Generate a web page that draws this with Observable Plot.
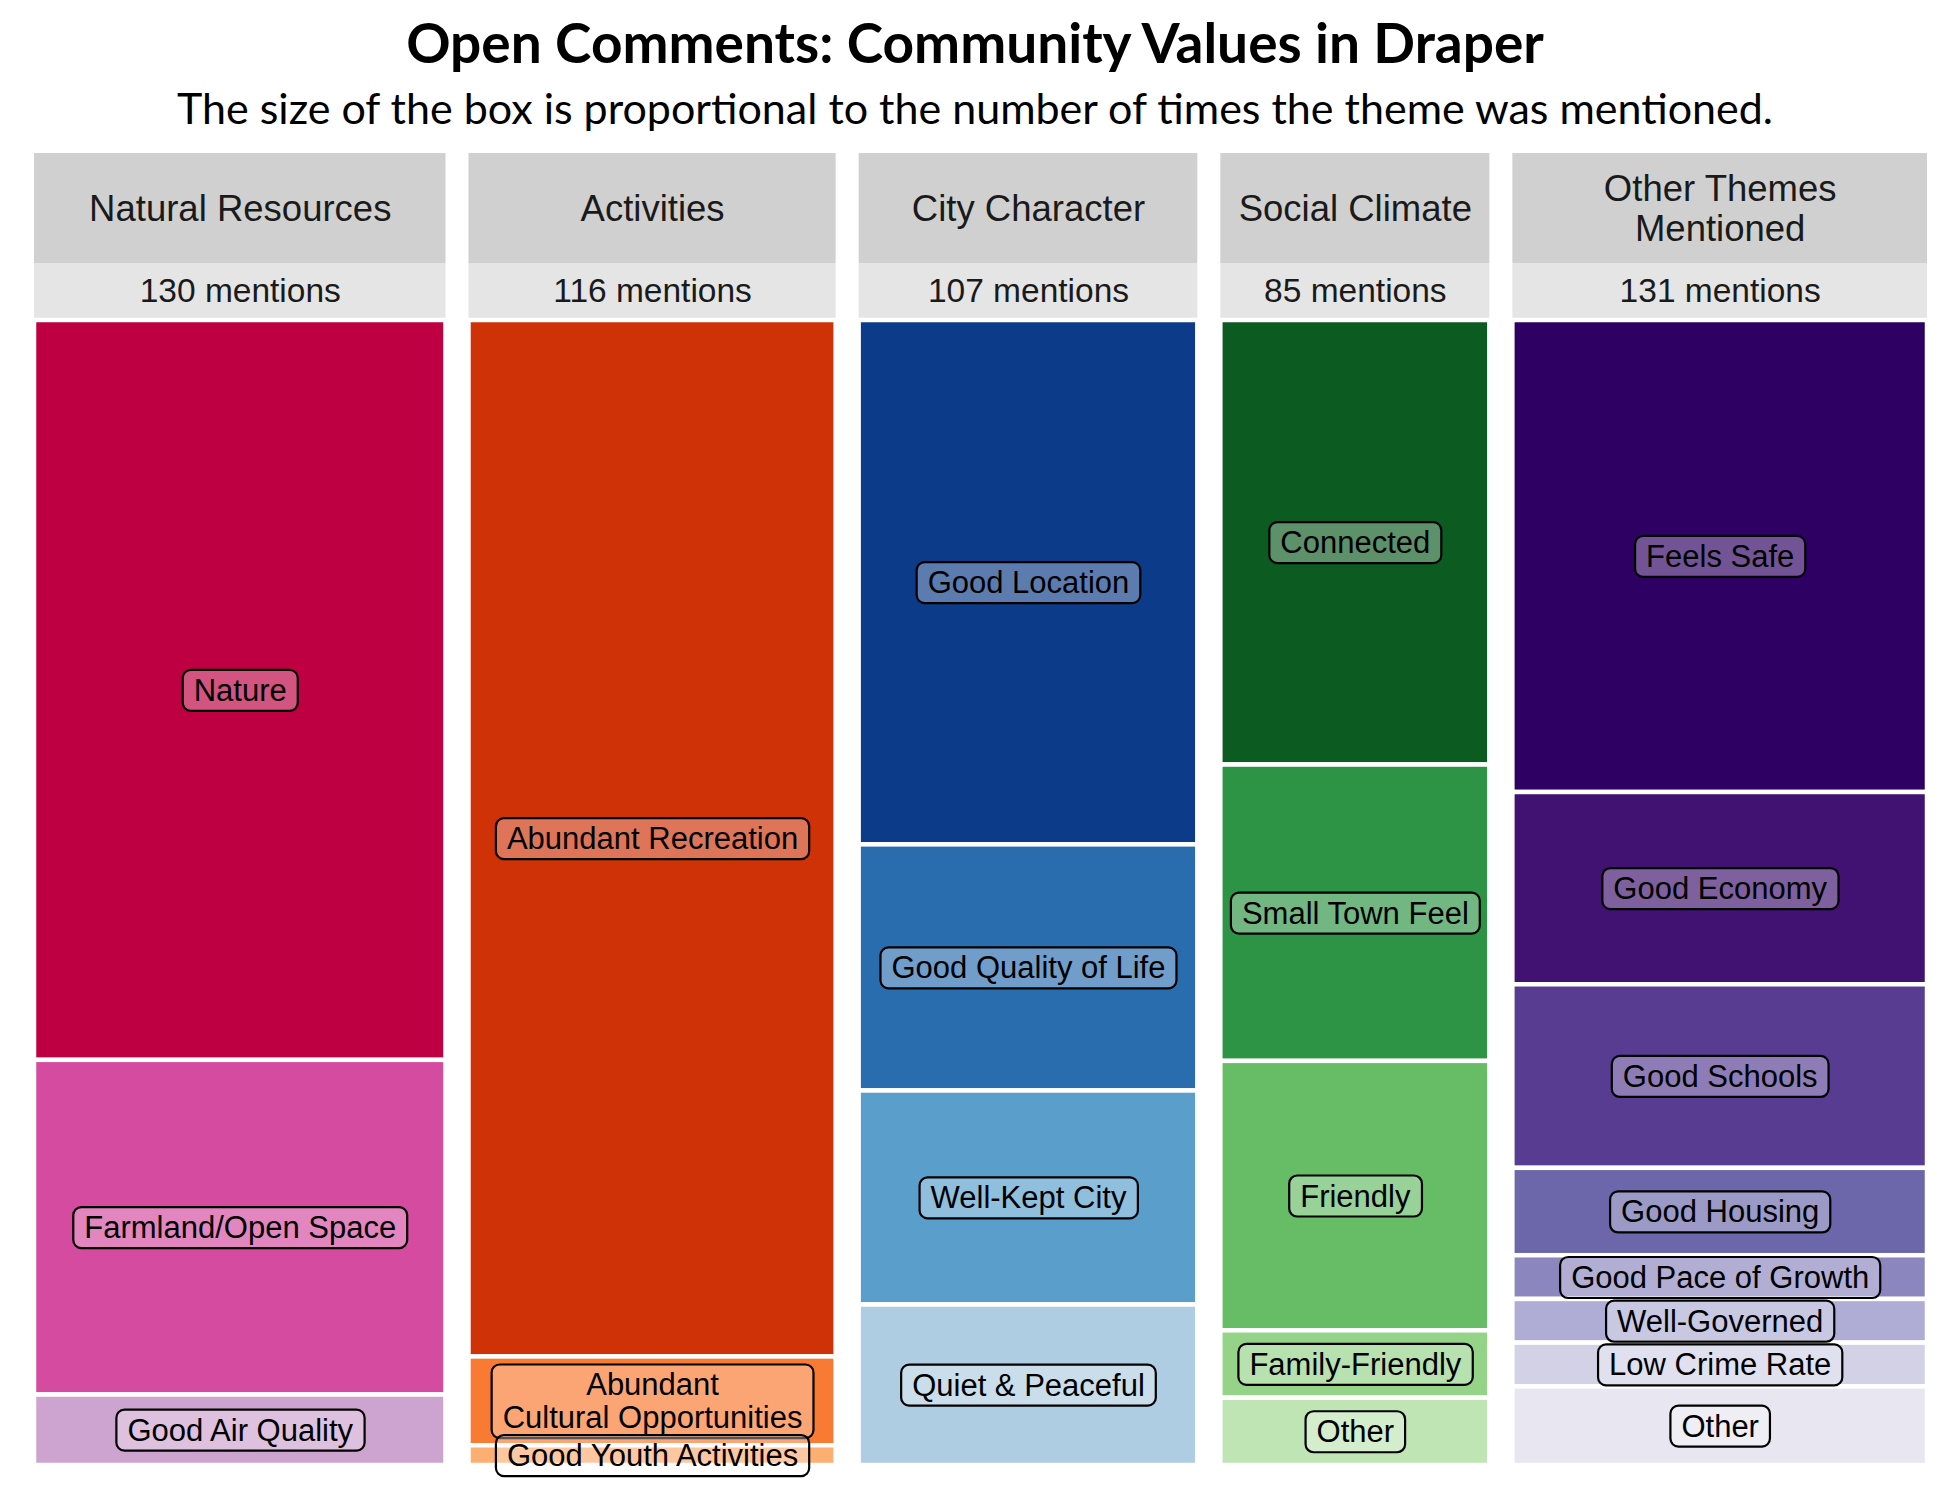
<!DOCTYPE html>
<html>
<head>
<meta charset="utf-8">
<script src="https://cdn.jsdelivr.net/npm/d3@7"></script>
<script src="https://cdn.jsdelivr.net/npm/@observablehq/plot@0.6"></script>
<style>
  body { margin: 0; background: #fff; }
  #head { width: 1950px; height: 150px; position: relative; }
  .hl { position: absolute; left: 0; width: 1950px; text-align: center; white-space: nowrap; }
  #title { top: 0; height: 84px; line-height: 84px; }
  #subtitle { top: 86px; height: 44px; line-height: 44px; }
  #title span { font-family: Lato, sans-serif; font-weight: 700; font-size: 54px; color: #000; display: inline-block; }
  #subtitle span { font-family: Lato, sans-serif; font-weight: 400; font-size: 40px; color: #000; display: inline-block; }
</style>
</head>
<body>
<div id="head">
  <div class="hl" id="title"><span>Open Comments: Community Values in Draper</span></div>
  <div class="hl" id="subtitle"><span>The size of the box is proportional to the number of times the theme was mentioned.</span></div>
</div>
<div id="chart"></div>
<script>
// ---- data ----
const themes = ["Natural Resources", "Activities", "City Character", "Social Climate", "Other Themes\nMentioned"];
const themeMentions = [130, 116, 107, 85, 131];

const naturalLabels = ["Nature", "Farmland/Open Space", "Good Air Quality"];
const naturalCounts = [84, 38, 8];
const activitiesLabels = ["Abundant Recreation", "Abundant\nCultural Opportunities", "Good Youth Activities"];
const activitiesCounts = [105, 9, 2];
const cityLabels = ["Good Location", "Good Quality of Life", "Well-Kept City", "Quiet & Peaceful"];
const cityCounts = [49, 23, 20, 15];
const socialLabels = ["Connected", "Small Town Feel", "Friendly", "Family-Friendly", "Other"];
const socialCounts = [33, 22, 20, 5, 5];
const otherLabels = ["Feels Safe", "Good Economy", "Good Schools", "Good Housing", "Good Pace of Growth", "Well-Governed", "Low Crime Rate", "Other"];
const otherCounts = [54, 22, 21, 10, 5, 5, 5, 9];

// ---- styles ----
const palettes = [
  ["#BE0043", "#D54BA0", "#CDA3CF"],
  ["#CF3207", "#F97A32", "#FDAE73"],
  ["#0C3C89", "#2A6DAF", "#5A9ECC", "#AFCDE2"],
  ["#0C5C22", "#2D9445", "#67BC66", "#94D388", "#BFE5B4"],
  ["#2E0063", "#411271", "#573C92", "#6B67AA", "#8C86BE", "#AFADD5", "#D2D1E6", "#E8E6F1"]
];
const subLabels = [naturalLabels, activitiesLabels, cityLabels, socialLabels, otherLabels];
const subCounts = [naturalCounts, activitiesCounts, cityCounts, socialCounts, otherCounts];

// layout constants
const GAP = 7.266;          // gap between columns, in mention units
const PX = 1 / 1145;        // one pixel in panel-fraction units

const cols = [];
const rows = [];
let start = 0;
themes.forEach((t, i) => {
  const total = d3.sum(subCounts[i]);
  let cum = 0;
  subLabels[i].forEach((s, j) => {
    rows.push({
      theme: t, label: s,
      x1: start, x2: start + themeMentions[i],
      y1: cum / total, y2: (cum + subCounts[i][j]) / total,
      color: palettes[i][j]
    });
    cum += subCounts[i][j];
  });
  cols.push({theme: t, mentions: themeMentions[i], x1: start, x2: start + themeMentions[i]});
  start += themeMentions[i] + GAP;
});
const xMax = start - GAP;

const chart = Plot.plot({
  width: 1950,
  height: 1350,
  marginLeft: 34,
  marginRight: 23,
  marginTop: 170,
  marginBottom: 35,
  style: {fontFamily: "'Liberation Sans', Arial, sans-serif", background: "white"},
  x: {domain: [0, xMax], range: [34, 1927], axis: null},
  y: {domain: [0, 1], range: [170, 1315], axis: null},
  color: {type: "identity"},
  marks: [
    Plot.rect(cols, {x1: "x1", x2: "x2", y1: () => -167 * PX, y2: () => -57 * PX, fill: "#D0D0D0"}),
    Plot.rect(cols, {x1: "x1", x2: "x2", y1: () => -57 * PX, y2: () => -2 * PX, fill: "#E5E5E5"}),
    Plot.text(cols, {x: d => (d.x1 + d.x2) / 2, y: () => -112 * PX, text: "theme", fontSize: 36.5, lineHeight: 1.07, fill: "#1A1A1A"}),
    Plot.text(cols, {x: d => (d.x1 + d.x2) / 2, y: () => -29.5 * PX, text: d => `${d.mentions} mentions`, fontSize: 33.5, fill: "#1A1A1A"}),
    Plot.rect(rows, {x1: "x1", x2: "x2", y1: "y1", y2: "y2", fill: "color", stroke: "white", strokeWidth: 4.5}),
    Plot.text(rows, {x: d => (d.x1 + d.x2) / 2, y: d => (d.y1 + d.y2) / 2, text: "label", fontSize: 31, lineHeight: 1.05, fill: "black"})
  ]
});
document.getElementById("chart").append(chart);

function fit(el, target) {
  const w = el.getBoundingClientRect().width;
  const fs = parseFloat(getComputedStyle(el).fontSize);
  el.style.fontSize = (fs * target / w) + "px";
}

let decorated = false;
function decorate() {
  if (decorated) return;
  decorated = true;
  fit(document.querySelector("#title span"), 1138);
  fit(document.querySelector("#subtitle span"), 1596);
  const ns = "http://www.w3.org/2000/svg";
  const groups = chart.querySelectorAll('g[aria-label="text"]');
  const g = groups[groups.length - 1];
  if (!g) return;
  Array.from(g.querySelectorAll("text")).forEach(t => {
    const b = t.getBBox();
    const r = document.createElementNS(ns, "rect");
    r.setAttribute("x", b.x - 11);
    r.setAttribute("y", b.y - 3);
    r.setAttribute("width", b.width + 22);
    r.setAttribute("height", b.height + 6);
    r.setAttribute("rx", 8);
    r.setAttribute("fill", "white");
    r.setAttribute("fill-opacity", 0.33);
    r.setAttribute("stroke", "black");
    r.setAttribute("stroke-width", 2.2);
    const tr = t.getAttribute("transform");
    if (tr) r.setAttribute("transform", tr);
    t.parentNode.insertBefore(r, t);
  });
}
decorate();
</script>
</body>
</html>
